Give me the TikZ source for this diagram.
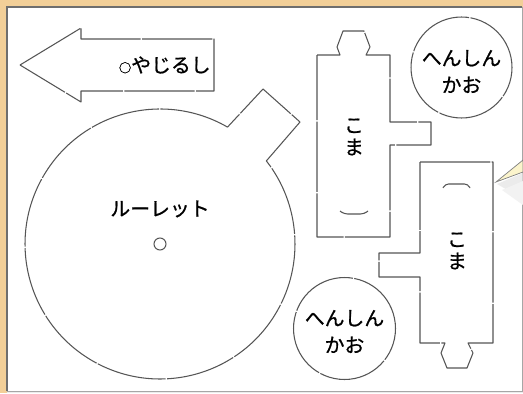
\documentclass[tikz,border=0pt]{standalone}
\usepackage{fontspec}
\setmainfont{Noto Sans CJK JP}[FakeBold=0.8]
\usetikzlibrary{positioning}
\definecolor{sheettan}{HTML}{F2CF98}
\definecolor{cutgray}{HTML}{555555}
\definecolor{bubblecream}{HTML}{FBF4CC}
\tikzset{cutline/.style={draw=cutgray,line width=0.6pt,dash pattern=on 40pt off 0.8pt,line join=round},
         piecetext/.style={font=\fontsize{11.3pt}{15.3pt}\selectfont,align=center,inner sep=0pt},
         kometext/.style={font=\fontsize{11.3pt}{12.5pt}\selectfont,align=center,inner sep=0pt},
        }
\newcommand{\holemark}{{\fontsize{7pt}{7pt}\selectfont ○}}

\begin{document}
\begin{tikzpicture}[x=0.02cm,y=0.02cm]
        \useasboundingbox(0,0)rectangle(523,393);
        \fill[sheettan](0,0)rectangle(523,393);
        \fill[gray!15](7,0)rectangle(523,2);
        \fill[white](7,2)rectangle(522,386);
        \draw[cutgray!85,line width=1pt](7,2)--(7,386)--(522,386);
        \draw[gray!70,line width=0.5pt](522,386)--(522,2)--(7,2);

        % speech bubble tip
        \fill[gray!22,opacity=0.7](497,209)--(523,220)--(523,194)--cycle;
        \fill[gray!10](502,203)--(523,212)--(523,188)--cycle;
        \filldraw[fill=bubblecream,draw=gray,line width=0.4pt](496,211)--(523,233)--(523,221)--cycle;

        % yajirushi
        \draw[cutline](20,328)--(81,365)--(81,354)--(214,354)--(214,302)--(81,302)--(81,291)--cycle;
        \node[piecetext,anchor=east](yajirushi)at(211,328){\holemark やじるし};

        % roulette
        \coordinate(rc)at(160,149);
        \draw[cutline](227.5,265.9)arc[start angle=60,end angle=398,radius=2.7cm]
            --(300,271)--(263,304)--cycle;
        \draw[cutgray,line width=0.6pt](rc)circle(0.12cm);
        \node[piecetext](roulette)at(160,184){ルーレット};

        % koma 1
        \draw[cutline](317,338)--(340,338)--(337,346)--(343,362)--(364,362)--(370,346)--(366,338)
            --(390,338)--(390,271)--(431,271)--(431,248)--(390,248)--(390,156)--(317,156)--cycle;
        \draw[cutgray,line width=0.6pt,rounded corners=2pt](340,182)--(344,179)--(364,179)--(368,182);
        \node[kometext](koma1)at(354,256){こ\\ま};

        % koma 2
        \draw[cutline](420,231)--(493,231)--(493,50)--(468,50)--(473,40)--(467,25)--(447,25)--(441,40)
            --(445,50)--(420,50)--(420,116)--(379,116)--(379,140)--(420,140)--cycle;
        \draw[cutgray,line width=0.6pt,rounded corners=2pt](443,205)--(445,209)--(468,209)--(470,205);
        \node[kometext](koma2)at(457,142){こ\\ま};

        % henshin kao
        \draw[cutline](461.5,325.5)circle(1.01cm);
        \node[piecetext](kao1)at(461.5,321.5){へんしん\\かお};
        \draw[cutline](344.5,64.5)circle(1.02cm);
        \node[piecetext](kao2)at(344.5,61.5){へんしん\\かお};
    \end{tikzpicture}
\end{document}
